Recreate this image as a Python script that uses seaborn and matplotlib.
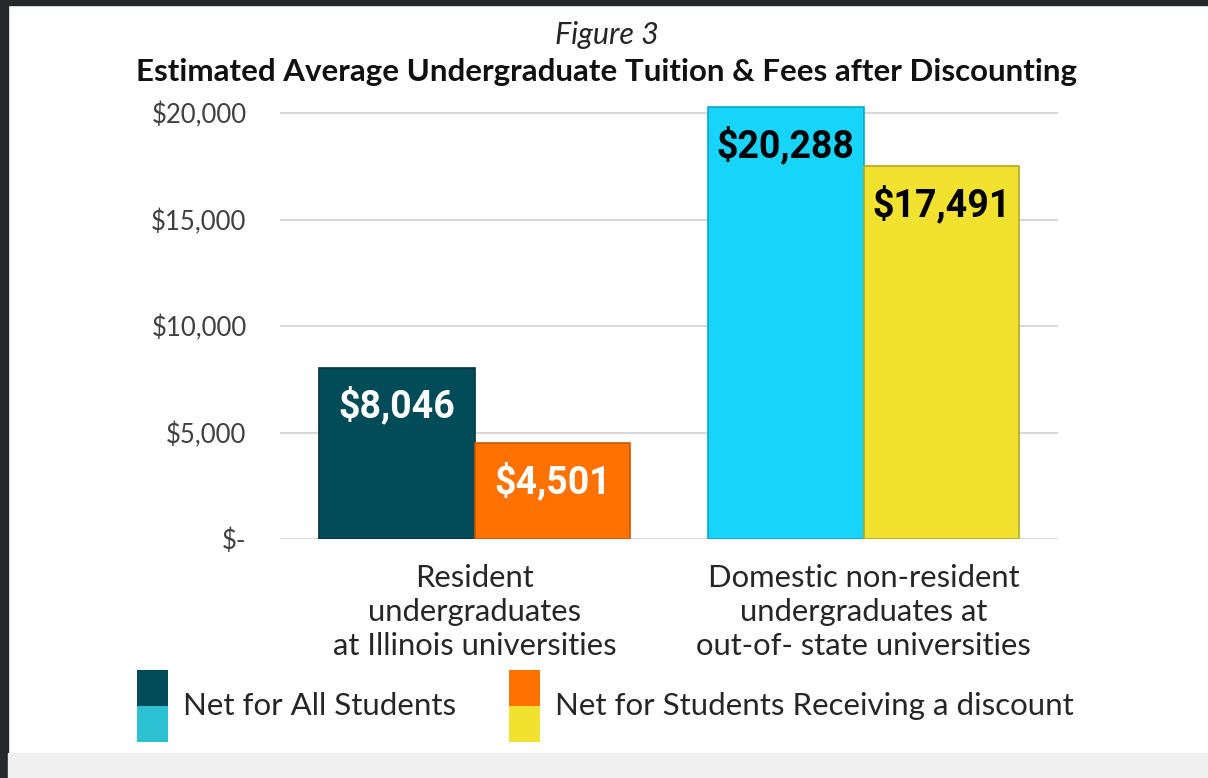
import matplotlib
matplotlib.use("Agg")
import matplotlib.pyplot as plt
from matplotlib.patches import Rectangle
from matplotlib.legend_handler import HandlerBase
from matplotlib.ticker import FuncFormatter, MultipleLocator
import seaborn as sns
import pandas as pd

# ---- data ----
categories = ["Resident\nundergraduates\nat Illinois universities",
              "Domestic non-resident\nundergraduates at\nout-of- state universities"]
series = ["Net for All Students", "Net for Students Receiving a discount"]
all_students = [8046, 20288]
discount_students = [4501, 17491]
value_labels_all = ["$8,046", "$20,288"]
value_labels_disc = ["$4,501", "$17,491"]

# colours: [series][category]
bar_colors = [["#024B58", "#17D4FA"], ["#FF7100", "#F2E230"]]
edge_colors = [["#01353E", "#0FA6C6"], ["#C85800", "#B5A820"]]
label_colors = ["white", "black"]
legend_colors = [("#024B58", "#2CC0D3"), ("#FF7100", "#F2E230")]

df = pd.DataFrame({
    "category": categories * 2,
    "series": [series[0]] * 2 + [series[1]] * 2,
    "value": all_students + discount_students,
})

sns.set_theme(style="white")
plt.rcParams["font.family"] = ["Lato", "DejaVu Sans"]

W, H = 1208, 778
fig = plt.figure(figsize=(W / 100, H / 100), dpi=100)
fig.patch.set_facecolor("white")

# decorative frame
fig.add_artist(Rectangle((0, 0), 8 / W, 1, transform=fig.transFigure, color="#26292c", zorder=0))
fig.add_artist(Rectangle((0, 1 - 5 / H), 1, 5 / H, transform=fig.transFigure, color="#26292c", zorder=0))
fig.add_artist(Rectangle((8 / W, 0), 1, 25 / H, transform=fig.transFigure, color="#F0F0F0", zorder=0))

ymax = 20500
px_per_unit = 426 / 20000
ax_left, ax_right = 280 / W, 1058 / W
ax_bottom_px = 539
ax_top_px = ax_bottom_px - ymax * px_per_unit
ax = fig.add_axes([ax_left, 1 - ax_bottom_px / H, ax_right - ax_left, (ax_bottom_px - ax_top_px) / H])

sns.barplot(data=df, x="category", y="value", hue="series", order=categories,
            hue_order=series, palette=["#024B58", "#FF7100"], saturation=1,
            width=0.8, legend=False, ax=ax, zorder=3, linewidth=1)

for si, cont in enumerate(ax.containers):
    for ci, bar in enumerate(cont):
        bar.set_facecolor(bar_colors[si][ci])
        bar.set_edgecolor(edge_colors[si][ci])
        bar.set_linewidth(1.2)
    labels = value_labels_all if si == 0 else value_labels_disc
    texts = ax.bar_label(cont, labels=labels, padding=-28,
                         fontsize=27, fontweight="bold", family=["Roboto", "DejaVu Sans"])
    for ci, t in enumerate(texts):
        t.set_color(label_colors[ci])
        t.set_verticalalignment("center")

ax.set_xlim(-0.5, 1.5)
ax.set_ylim(0, ymax)
ax.yaxis.set_major_locator(MultipleLocator(5000))
ax.yaxis.set_major_formatter(FuncFormatter(lambda v, p: "$-" if v == 0 else f"${v:,.0f}"))
ax.grid(axis="y", color="#D9D9D9", linewidth=1.5, zorder=0)
ax.set_axisbelow(True)
for s in ax.spines.values():
    s.set_visible(False)
ax.set_xlabel("")
ax.set_ylabel("")
ax.tick_params(axis="y", length=0, pad=24, labelsize=18.5, labelcolor="#404040")
ax.tick_params(axis="x", length=0, pad=18, labelsize=22.3, labelcolor="#262626")
for lab in ax.get_xticklabels():
    lab.set_linespacing(1.27)

# titles
fig.text(607 / W, 1 - 35 / H, "Figure 3", ha="center", va="center",
         fontsize=22, style="italic", color="#262626")
fig.text(607 / W, 1 - 72 / H, "Estimated Average Undergraduate Tuition & Fees after Discounting",
         ha="center", va="center", fontsize=22.5, fontweight="bold", color="#111111")


# two-tone legend
class TwoTone:
    def __init__(self, top, bottom):
        self.top = top
        self.bottom = bottom


class TwoToneHandler(HandlerBase):
    def create_artists(self, legend, orig_handle, xdescent, ydescent, width, height, fontsize, trans):
        x0, y0 = -xdescent, -ydescent
        bot = Rectangle((x0, y0), width, height / 2, facecolor=orig_handle.bottom,
                        edgecolor="none", transform=trans)
        top = Rectangle((x0, y0 + height / 2), width, height / 2, facecolor=orig_handle.top,
                        edgecolor="none", transform=trans)
        return [bot, top]


handles = [TwoTone(*c) for c in legend_colors]
fig.legend(handles, series, handler_map={TwoTone: TwoToneHandler()},
           loc="center left", bbox_to_anchor=(137 / W, 1 - 706 / H), ncol=2,
           frameon=False, fontsize=22.5, borderpad=0, borderaxespad=0,
           handlelength=0.99, handleheight=3.2, handletextpad=0.48, columnspacing=1.7,
           labelcolor="#262626")

fig.savefig("out.png", dpi=100)
